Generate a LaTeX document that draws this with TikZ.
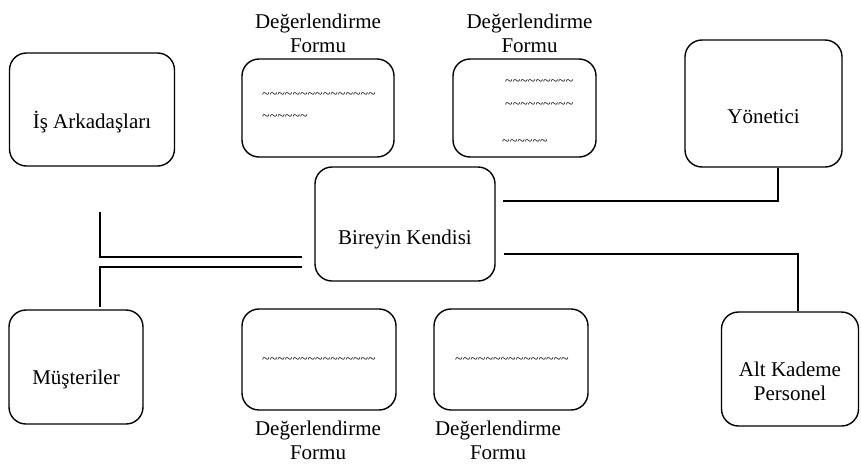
\documentclass[tikz,border=0pt]{standalone}
\usepackage{fontspec}
\setmainfont{Liberation Serif}
\usetikzlibrary{calc}
\newcommand{\wv}[1]{{\fontsize{14}{14}\selectfont\foreach\i in {1,...,#1}{\textasciitilde}}}
\begin{document}
\begin{tikzpicture}[x=1pt,y=-1pt,
  every node/.style={font=\fontsize{21}{24}\selectfont},
  box/.style={draw, line width=1.4pt, rounded corners=17pt, inner sep=0pt},
  link/.style={line width=1.4pt},
  formcap/.style={align=center, inner sep=0pt}]
\useasboundingbox (0,0) rectangle (861,466);

% people
\node[box, minimum width=165pt, minimum height=113pt,
  label={[yshift=-13pt]center:İş Arkadaşları}] (is) at (92,109.5) {};
\node[box, minimum width=157pt, minimum height=127pt,
  label={[yshift=-13pt]center:Yönetici}] (yon) at (763.5,103.5) {};
\node[box, minimum width=180pt, minimum height=114pt,
  label={[yshift=-15pt]center:Bireyin Kendisi}] (bk) at (405,224) {};
\node[box, minimum width=134pt, minimum height=114pt,
  label={[yshift=-12pt]center:Müşteriler}] (mus) at (76,367) {};
\node[box, minimum width=137pt, minimum height=114pt,
  label={[yshift=-12pt,align=center]center:Alt Kademe\\Personel}] (alt) at (790,369) {};

% evaluation forms
\node[box, minimum width=152pt, minimum height=98pt] (f1) at (318,108) {};
\node[box, minimum width=143pt, minimum height=98pt] (f2) at (524.5,108) {};
\node[box, minimum width=154pt, minimum height=101pt] (f3) at (319,359.5) {};
\node[box, minimum width=154pt, minimum height=101pt] (f4) at (511,359.5) {};

\node[formcap, anchor=south] (c1) at ($(f1.north)+(0,-5)$) {Değerlendirme\\Formu};
\node[formcap, anchor=south] (c2) at ($(f2.north)+(5,-5)$) {Değerlendirme\\Formu};
\node[formcap, anchor=north] (c3) at ($(f3.south)+(-1,10)$) {Değerlendirme\\Formu};
\node[formcap, anchor=north] (c4) at ($(f4.south)+(-13,10)$) {Değerlendirme\\Formu};

% form contents
\node[anchor=west, inner sep=0pt] (t1a) at (262,96) {\wv{15}};
\node[anchor=west, inner sep=0pt] (t1b) at (262,118) {\wv{6}};
\node[anchor=west, inner sep=0pt] (t2a) at (505,83) {\wv{9}};
\node[anchor=west, inner sep=0pt] (t2b) at (505,106) {\wv{9}};
\node[anchor=west, inner sep=0pt] (t2c) at (502,143) {\wv{6}};
\node[anchor=west, inner sep=0pt] (t3) at (262,361) {\wv{15}};
\node[anchor=west, inner sep=0pt] (t4) at (455,361) {\wv{15}};

% connectors
\coordinate (lt) at (100,212);
\coordinate (lb) at (100,307);
\coordinate (ym) at (778,0);
\coordinate (am) at (798,0);
\draw[link] (lt) -- (100,257) -- ($(bk.west)+(-12,33)$);
\draw[link] ($(bk.west)+(-12,43)$) -- (100,267) -- (lb);
\draw[link] ($(bk.east)+(7,-23)$) -| (ym |- yon.south);
\draw[link] ($(bk.east)+(8,30)$) -| (am |- alt.north);
\end{tikzpicture}
\end{document}
